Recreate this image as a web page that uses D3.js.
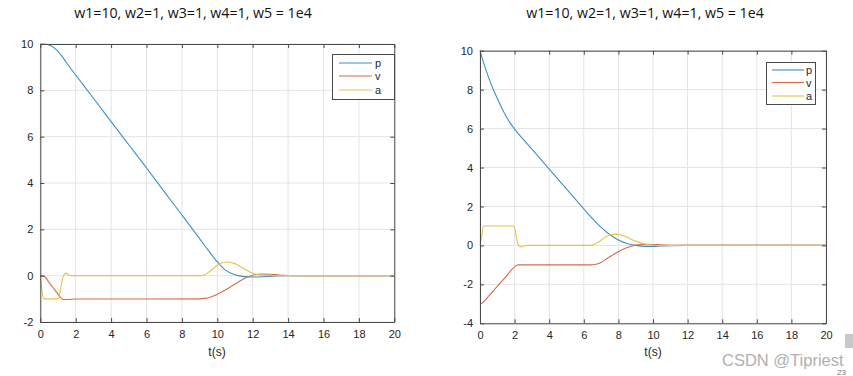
<!DOCTYPE html>
<html>
<head>
<meta charset="utf-8">
<script src="https://cdn.jsdelivr.net/npm/d3@7"></script>
<style>
    body { margin: 0; background: #fff; }
    svg { display: block; }
</style>
</head>
<body>
<div id="container"></div>
<script>
const W = 853, H = 376

const titleText = "w1=10, w2=1, w3=1, w4=1, w5 = 1e4"
const seriesNames = ["p", "v", "a"]
const colors = ["#3f8fc6", "#d76c48", "#e9c04a"]
const xTicks = [0, 2, 4, 6, 8, 10, 12, 14, 16, 18, 20]
const yTicksLeft = [-2, 0, 2, 4, 6, 8, 10]
const yTicksRight = [-4, -2, 0, 2, 4, 6, 8, 10]

// left plot (w1=10 case, v0 = 0)
const pLeftT = [0, 0.2, 0.4, 0.6, 0.8, 1.0, 1.2, 1.5, 2, 3, 4, 5, 6, 7, 8, 9, 9.5, 10, 10.5, 11, 11.5, 12, 12.5, 13, 13.5, 14, 16, 20]
const pLeftV = [10, 10, 9.98, 9.92, 9.82, 9.68, 9.5, 9.17, 8.66, 7.66, 6.65, 5.65, 4.65, 3.63, 2.62, 1.6, 1.08, 0.6, 0.22, 0.04, -0.04, -0.06, -0.05, -0.03, -0.01, 0, 0, 0]
const vLeftT = [0, 0.2, 0.5, 0.8, 1.0, 1.15, 1.3, 1.5, 2, 9, 9.3, 9.6, 10, 10.5, 11, 11.5, 12, 12.5, 13, 13.5, 14, 15, 20]
const vLeftV = [0, -0.02, -0.3, -0.6, -0.8, -0.95, -1.03, -1.03, -1.01, -1.0, -0.98, -0.93, -0.8, -0.6, -0.36, -0.13, 0.02, 0.07, 0.06, 0.03, 0.01, 0, 0]
const aLeftT = [0, 0.1, 0.2, 1.0, 1.05, 1.15, 1.25, 1.35, 1.45, 1.6, 1.8, 9.0, 9.3, 9.6, 10, 10.5, 11, 11.5, 12, 12.5, 13, 20]
const aLeftV = [0, -0.7, -1, -1, -0.95, -0.55, -0.15, 0.06, 0.1, 0.03, 0, 0, 0.04, 0.2, 0.45, 0.59, 0.52, 0.3, 0.1, 0.02, 0, 0]

// right plot (v0 = -3)
const pRightT = [0, 0.25, 0.5, 0.75, 1.0, 1.25, 1.5, 1.75, 2.0, 2.25, 3, 4, 5, 6, 6.5, 7, 7.5, 8, 8.5, 9, 9.5, 10, 10.5, 11, 12, 20]
const pRightV = [10, 9.27, 8.62, 8.05, 7.55, 7.07, 6.65, 6.28, 5.97, 5.7, 4.95, 3.92, 2.9, 1.88, 1.38, 0.93, 0.56, 0.28, 0.1, 0.0, -0.05, -0.05, -0.03, -0.01, 0, 0]
const vRightT = [0, 0.1, 0.5, 1.0, 1.5, 2.0, 2.2, 3, 6.4, 6.7, 7.0, 7.3, 7.6, 8.0, 8.4, 8.8, 9.2, 9.7, 10.2, 11, 12, 20]
const vRightV = [-3, -2.97, -2.6, -2.1, -1.6, -1.1, -1.0, -1.0, -1.0, -0.97, -0.88, -0.7, -0.53, -0.32, -0.15, -0.03, 0.04, 0.06, 0.04, 0.01, 0, 0]
const aRightT = [0, 0.1, 0.2, 1.95, 2.05, 2.15, 2.25, 2.4, 2.6, 2.8, 6.4, 6.6, 6.9, 7.2, 7.5, 7.8, 8.1, 8.5, 9.0, 9.5, 10, 10.5, 11, 20]
const aRightV = [0, 0.5, 1, 1, 0.7, 0.2, -0.02, -0.08, -0.02, 0, 0, 0.05, 0.2, 0.4, 0.53, 0.58, 0.55, 0.42, 0.22, 0.07, 0.01, -0.01, 0, 0]

const zip = (ts, vs) => ts.map((t, i) => [t, vs[i]])

const panels = [
    {
        x0: 40.3, x1: 394.3, yTop: 44, yBot: 322, yDomain: [-2, 10], yTicks: yTicksLeft,
        titleX: 193, xlabelX: 217,
        legend: { x: 332, y: 54, w: 62, h: 45, rows: [63, 76, 90], lx0: 339, lx1: 372, tx: 375 },
        series: [zip(pLeftT, pLeftV), zip(vLeftT, vLeftV), zip(aLeftT, aLeftV)]
    },
    {
        x0: 480, x1: 826, yTop: 50.7, yBot: 323.3, yDomain: [-4, 10], yTicks: yTicksRight,
        titleX: 645, xlabelX: 653,
        legend: { x: 766, y: 62, w: 49, h: 42, rows: [70, 82.5, 96], lx0: 772, lx1: 804, tx: 806 },
        series: [zip(pRightT, pRightV), zip(vRightT, vRightV), zip(aRightT, aRightV)]
    }
]

const baseFont = "Liberation Sans, Arial, sans-serif"

const svg = d3.select("#container").append("svg")
    .attr("width", W).attr("height", H)

const drawPanel = (cfg) => {
    const g = svg.append("g")
    const x = d3.scaleLinear().domain([0, 20]).range([cfg.x0, cfg.x1])
    const y = d3.scaleLinear().domain(cfg.yDomain).range([cfg.yBot, cfg.yTop])

    // grid
    g.append("g").selectAll("line").data(xTicks).join("line")
        .attr("x1", d => x(d)).attr("x2", d => x(d))
        .attr("y1", cfg.yTop).attr("y2", cfg.yBot)
        .attr("stroke", "#e3e3e3").attr("stroke-width", 1)
    g.append("g").selectAll("line").data(cfg.yTicks).join("line")
        .attr("x1", cfg.x0).attr("x2", cfg.x1)
        .attr("y1", d => y(d)).attr("y2", d => y(d))
        .attr("stroke", "#e3e3e3").attr("stroke-width", 1)

    // curves
    const line = d3.line()
        .x(d => x(d[0])).y(d => y(d[1]))
        .curve(d3.curveMonotoneX)
    cfg.series.forEach((s, i) => {
        g.append("path")
            .attr("d", line(s))
            .attr("fill", "none")
            .attr("stroke", colors[i])
            .attr("stroke-width", 1.1)
    })

    // axes, ticks pointing inward on all four sides
    const tickLen = 4
    const axisColor = "#4a4a4a"
    const plain = d => String(d)   // matlab style hyphen minus
    const bottom = g.append("g").attr("transform", `translate(0,${cfg.yBot})`)
        .call(d3.axisBottom(x).tickValues(xTicks).tickSize(-tickLen).tickPadding(8).tickSizeOuter(0).tickFormat(plain))
    const top = g.append("g").attr("transform", `translate(0,${cfg.yTop})`)
        .call(d3.axisTop(x).tickValues(xTicks).tickSize(-tickLen).tickFormat("").tickSizeOuter(0))
    const left = g.append("g").attr("transform", `translate(${cfg.x0},0)`)
        .call(d3.axisLeft(y).tickValues(cfg.yTicks).tickSize(-tickLen).tickPadding(7).tickSizeOuter(0).tickFormat(plain))
    const right = g.append("g").attr("transform", `translate(${cfg.x1},0)`)
        .call(d3.axisRight(y).tickValues(cfg.yTicks).tickSize(-tickLen).tickFormat("").tickSizeOuter(0))
    ;[bottom, top, left, right].forEach(a => {
        a.select(".domain").attr("stroke", axisColor)
        a.selectAll(".tick line").attr("stroke", axisColor)
        a.selectAll("text").attr("font-size", 11).attr("fill", "#262626")
            .attr("font-family", baseFont)
    })

    // title and x label
    svg.append("text")
        .attr("x", cfg.titleX).attr("y", 18)
        .attr("text-anchor", "middle")
        .attr("font-family", "Open Sans, sans-serif")
        .attr("font-size", 14.2)
        .attr("fill", "#111")
        .text(titleText)
    svg.append("text")
        .attr("x", cfg.xlabelX).attr("y", 356)
        .attr("text-anchor", "middle")
        .attr("font-family", baseFont)
        .attr("font-size", 12)
        .attr("fill", "#262626")
        .text("t(s)")

    // legend
    const L = cfg.legend
    g.append("rect")
        .attr("x", L.x + 0.5).attr("y", L.y + 0.5)
        .attr("width", L.w).attr("height", L.h)
        .attr("fill", "#fff").attr("stroke", "#4a4a4a")
    seriesNames.forEach((name, i) => {
        g.append("line")
            .attr("x1", L.lx0).attr("x2", L.lx1)
            .attr("y1", L.rows[i]).attr("y2", L.rows[i])
            .attr("stroke", colors[i]).attr("stroke-width", 1.1)
        g.append("text")
            .attr("x", L.tx).attr("y", L.rows[i] + 4)
            .attr("font-family", baseFont)
            .attr("font-size", 11)
            .attr("fill", "#262626")
            .text(name)
    })
}

panels.forEach(drawPanel)

// page watermark bits
svg.append("rect").attr("x", 845).attr("y", 334).attr("width", 8).attr("height", 14).attr("fill", "#c8c8c8")
svg.append("text")
    .attr("x", 722).attr("y", 366)
    .attr("font-family", baseFont)
    .attr("font-size", 16.5)
    .attr("fill", "#b0b0b0")
    .text("CSDN @Tipriest")
svg.append("text")
    .attr("x", 837).attr("y", 375)
    .attr("font-family", baseFont)
    .attr("font-size", 8)
    .attr("fill", "#777")
    .text("23")
</script>
</body>
</html>
